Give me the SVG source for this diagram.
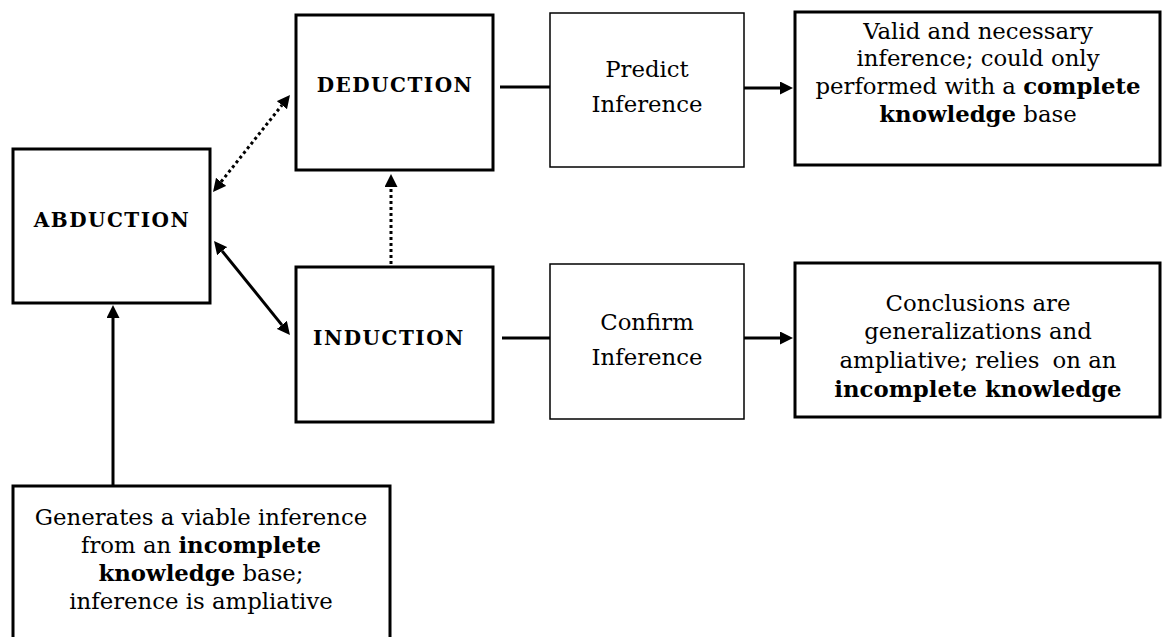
<svg xmlns="http://www.w3.org/2000/svg" width="1164" height="637" viewBox="0 0 1164 637">
<style>
.box{fill:#fff;stroke:#000;stroke-width:3}
.thin{fill:#fff;stroke:#000;stroke-width:1.5}
.t{font-family:"DejaVu Serif","Liberation Serif",serif;font-size:22.8px;fill:#000;text-anchor:middle}
.lbl{font-family:"DejaVu Serif","Liberation Serif",serif;font-size:20px;font-weight:bold;letter-spacing:1.5px;fill:#000;text-anchor:middle}
.b{font-weight:bold}
.c{fill:none;stroke:#000;stroke-width:3}
.dot{stroke-dasharray:3 3}
</style>
<defs>
<marker id="arr" viewBox="0 0 13 13" refX="0" refY="6.5" markerWidth="13" markerHeight="13" markerUnits="userSpaceOnUse" orient="auto-start-reverse">
<path d="M0,0 L13,6.5 L0,13 z" fill="#000"/>
</marker>
</defs>
<rect width="1164" height="637" fill="#fff"/>
<g id="connectors">
<line class="c" x1="113" y1="486" x2="113" y2="318" marker-end="url(#arr)"/>
<line class="c dot" x1="221.1" y1="181.8" x2="281.9" y2="105.2" marker-start="url(#arr)" marker-end="url(#arr)"/>
<line class="c" x1="222.2" y1="251.1" x2="281.8" y2="324.9" marker-start="url(#arr)" marker-end="url(#arr)"/>
<line class="c dot" x1="391" y1="264" x2="391" y2="187" marker-end="url(#arr)"/>
<line class="c" x1="500" y1="87" x2="550" y2="87"/>
<line class="c" x1="744" y1="88" x2="780" y2="88" marker-end="url(#arr)"/>
<line class="c" x1="502" y1="338" x2="550" y2="338"/>
<line class="c" x1="744" y1="338" x2="780" y2="338" marker-end="url(#arr)"/>
</g>
<g id="abduction">
<rect class="box" x="13" y="149" width="197" height="154"/>
<text class="lbl" x="112" y="227">ABDUCTION</text>
</g>
<g id="deduction">
<rect class="box" x="296" y="15" width="197" height="155"/>
<text class="lbl" x="395" y="92">DEDUCTION</text>
</g>
<g id="induction">
<rect class="box" x="296" y="267" width="197" height="155"/>
<text class="lbl" x="389" y="345">INDUCTION</text>
</g>
<g id="predict">
<rect class="thin" x="550" y="13" width="194" height="154"/>
<text class="t" x="647" y="77">Predict</text>
<text class="t" x="647" y="112">Inference</text>
</g>
<g id="confirm">
<rect class="thin" x="550" y="264" width="194" height="155"/>
<text class="t" x="647" y="330">Confirm</text>
<text class="t" x="647" y="365">Inference</text>
</g>
<g id="valid">
<rect class="box" x="795" y="12" width="365" height="153"/>
<text class="t" x="978" y="39">Valid and necessary</text>
<text class="t" x="978" y="66">inference; could only</text>
<text class="t" x="978" y="94">performed with a <tspan class="b">complete</tspan></text>
<text class="t" x="978" y="122"><tspan class="b">knowledge</tspan> base</text>
</g>
<g id="conclusions">
<rect class="box" x="795" y="263" width="365" height="154"/>
<text class="t" x="978" y="311">Conclusions are</text>
<text class="t" x="978" y="339">generalizations and</text>
<text class="t" x="978" y="368">ampliative; relies <tspan dx="6">on an</tspan></text>
<text class="t b" x="978" y="397">incomplete knowledge</text>
</g>
<g id="generates">
<rect class="box" x="13" y="486" width="377" height="170"/>
<text class="t" x="201" y="525">Generates a viable inference</text>
<text class="t" x="201" y="553">from an <tspan class="b">incomplete</tspan></text>
<text class="t" x="201" y="581"><tspan class="b">knowledge</tspan> base;</text>
<text class="t" x="201" y="609">inference is ampliative</text>
</g>
</svg>
